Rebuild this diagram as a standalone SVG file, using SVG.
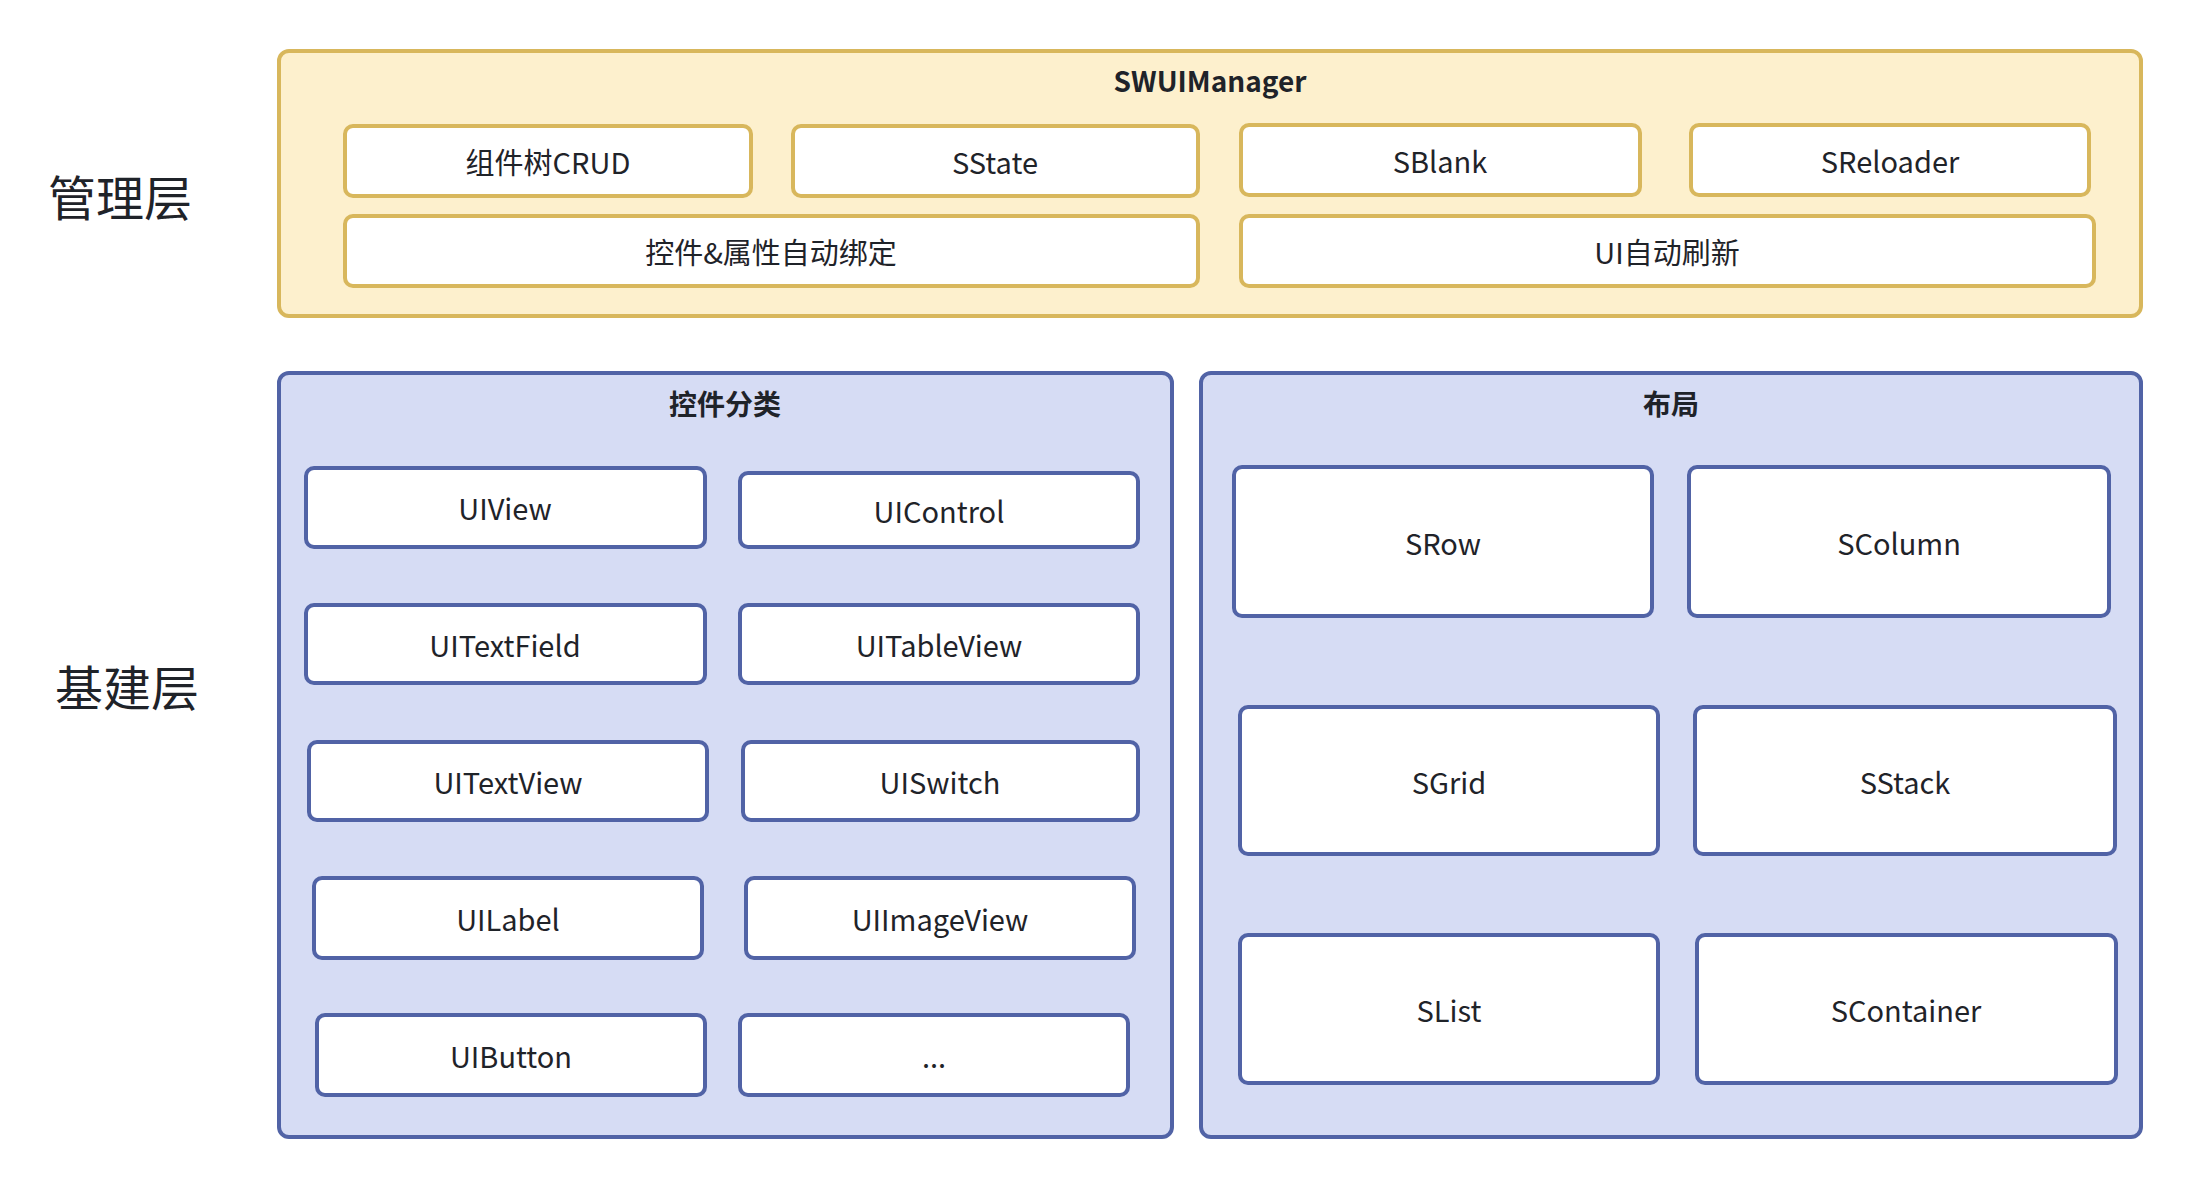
<svg xmlns="http://www.w3.org/2000/svg" width="2192" height="1190" viewBox="0 0 2192 1190">
<style>
text{font-family:"Noto Sans CJK SC","Noto Sans",sans-serif;fill:#1f2329;text-anchor:middle;dominant-baseline:central}
.t{font-size:29px}
.h{font-size:28px;font-weight:bold}
.side{font-size:48px}
.ycont{fill:#fdf0cd;stroke:#d8b75c;stroke-width:4}
.bcont{fill:#d6dcf4;stroke:#5163a6;stroke-width:4}
.yn{fill:#ffffff;stroke:#d8b75c;stroke-width:4}
.bn{fill:#ffffff;stroke:#5163a6;stroke-width:4}
</style>
<rect width="2192" height="1190" fill="#ffffff"/>
<g id="labels">
<text class="side" x="120" y="195">管理层</text>
<text class="side" x="127" y="685">基建层</text>
</g>
<g id="swuimanager">
<rect class="ycont" x="279" y="51" width="1862" height="265" rx="10"/>
<text class="h" x="1210" y="80">SWUIManager</text>
</g>
<g id="crud"><rect class="yn" x="345" y="126" width="406" height="70" rx="8"/><text class="t" x="548" y="161">组件树CRUD</text></g>
<g id="sstate"><rect class="yn" x="793" y="126" width="405" height="70" rx="8"/><text class="t" x="995" y="161">SState</text></g>
<g id="sblank"><rect class="yn" x="1241" y="125" width="399" height="70" rx="8"/><text class="t" x="1440" y="160">SBlank</text></g>
<g id="sreloader"><rect class="yn" x="1691" y="125" width="398" height="70" rx="8"/><text class="t" x="1890" y="160">SReloader</text></g>
<g id="binding"><rect class="yn" x="345" y="216" width="853" height="70" rx="8"/><text class="t" x="771" y="251">控件&amp;属性自动绑定</text></g>
<g id="refresh"><rect class="yn" x="1241" y="216" width="853" height="70" rx="8"/><text class="t" x="1667" y="251">UI自动刷新</text></g>

<g id="controls">
<rect class="bcont" x="279" y="373" width="893" height="764" rx="10"/>
<text class="h" x="725" y="403">控件分类</text>
</g>
<g id="uiview"><rect class="bn" x="306" y="468" width="399" height="79" rx="8"/><text class="t" x="505" y="507">UIView</text></g>
<g id="uicontrol"><rect class="bn" x="740" y="473" width="398" height="74" rx="8"/><text class="t" x="939" y="510">UIControl</text></g>
<g id="uitextfield"><rect class="bn" x="306" y="605" width="399" height="78" rx="8"/><text class="t" x="505" y="644">UITextField</text></g>
<g id="uitableview"><rect class="bn" x="740" y="605" width="398" height="78" rx="8"/><text class="t" x="939" y="644">UITableView</text></g>
<g id="uitextview"><rect class="bn" x="309" y="742" width="398" height="78" rx="8"/><text class="t" x="508" y="781">UITextView</text></g>
<g id="uiswitch"><rect class="bn" x="743" y="742" width="395" height="78" rx="8"/><text class="t" x="940" y="781">UISwitch</text></g>
<g id="uilabel"><rect class="bn" x="314" y="878" width="388" height="80" rx="8"/><text class="t" x="508" y="918">UILabel</text></g>
<g id="uiimageview"><rect class="bn" x="746" y="878" width="388" height="80" rx="8"/><text class="t" x="940" y="918">UIImageView</text></g>
<g id="uibutton"><rect class="bn" x="317" y="1015" width="388" height="80" rx="8"/><text class="t" x="511" y="1055">UIButton</text></g>
<g id="more"><rect class="bn" x="740" y="1015" width="388" height="80" rx="8"/><text class="t" x="934" y="1055">...</text></g>

<g id="layout">
<rect class="bcont" x="1201" y="373" width="940" height="764" rx="10"/>
<text class="h" x="1671" y="403">布局</text>
</g>
<g id="srow"><rect class="bn" x="1234" y="467" width="418" height="149" rx="8"/><text class="t" x="1443" y="542">SRow</text></g>
<g id="scolumn"><rect class="bn" x="1689" y="467" width="420" height="149" rx="8"/><text class="t" x="1899" y="542">SColumn</text></g>
<g id="sgrid"><rect class="bn" x="1240" y="707" width="418" height="147" rx="8"/><text class="t" x="1449" y="781">SGrid</text></g>
<g id="sstack"><rect class="bn" x="1695" y="707" width="420" height="147" rx="8"/><text class="t" x="1905" y="781">SStack</text></g>
<g id="slist"><rect class="bn" x="1240" y="935" width="418" height="148" rx="8"/><text class="t" x="1449" y="1009">SList</text></g>
<g id="scontainer"><rect class="bn" x="1697" y="935" width="419" height="148" rx="8"/><text class="t" x="1906" y="1009">SContainer</text></g>
<g id="connectors"/>
</svg>
